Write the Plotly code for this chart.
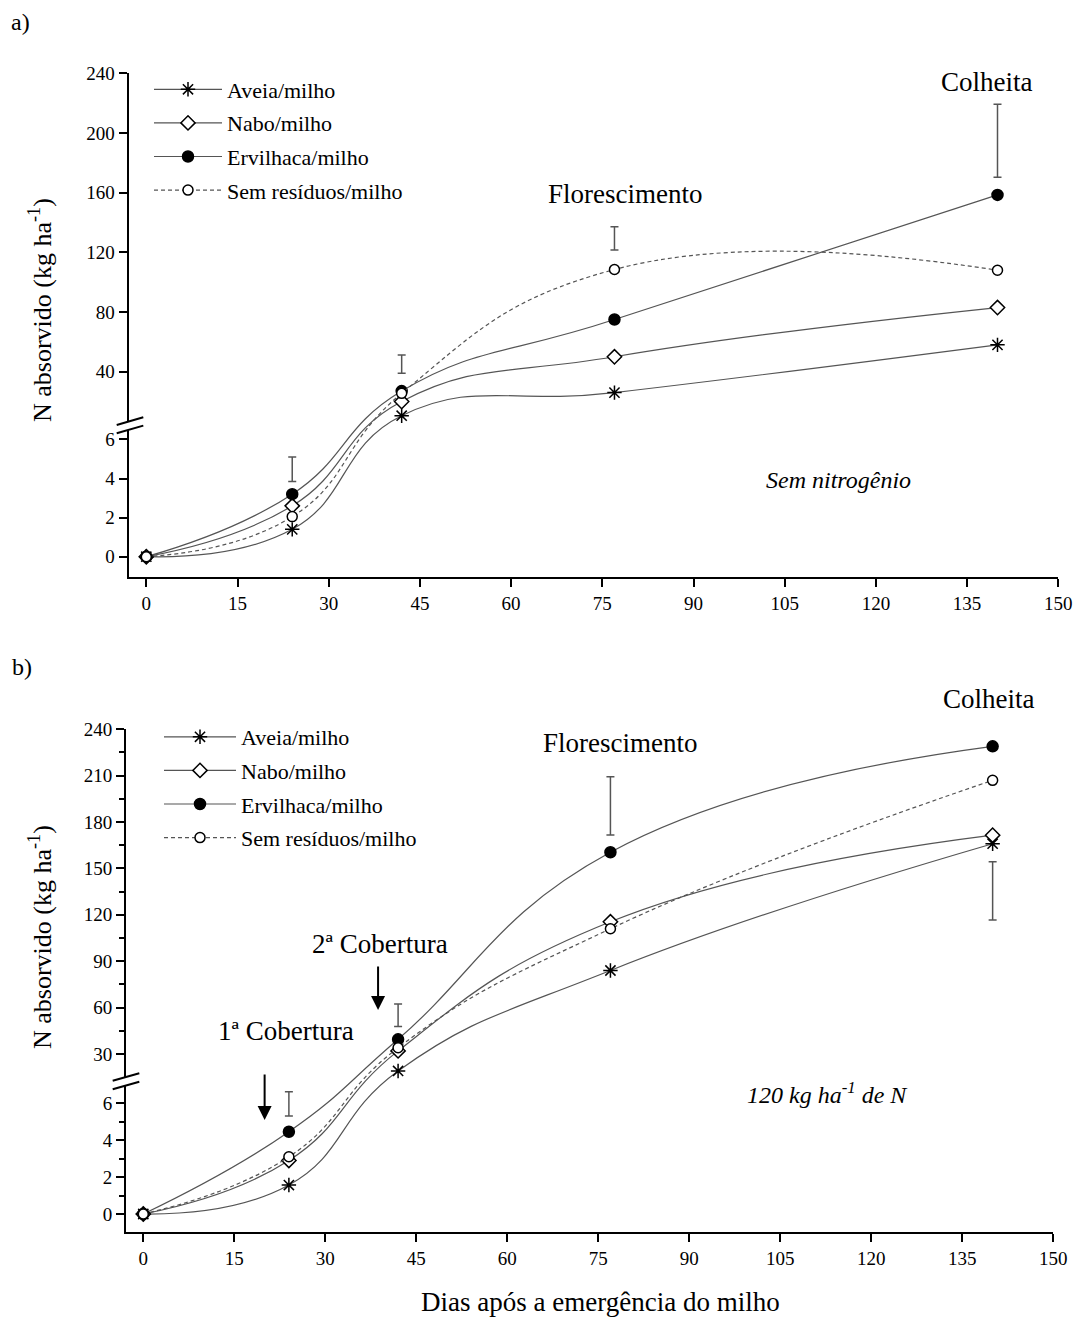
import plotly.graph_objects as go

W, H = 1076, 1317

# ---------------- data ----------------
days = [0, 24, 42, 77, 140]

# panel a) Sem nitrogênio
a_aveia = [0, 1.4, 10.5, 26, 58]
a_nabo = [0, 2.6, 20, 50, 83]
a_ervilhaca = [0, 3.2, 27, 75, 158.5]
a_sem = [0, 2.05, 25.5, 108.5, 108]
a_err_days = [24, 42, 77, 140]
a_err_low = [3.85, 38.9, 121.6, 170.3]
a_err_high = [5.1, 51.2, 137.2, 219.2]

# panel b) 120 kg ha-1 de N
b_aveia = [0, 1.57, 19, 84, 166]
b_nabo = [0, 2.9, 32, 115.5, 171.5]
b_ervilhaca = [0, 4.46, 39.5, 160.5, 229]
b_sem = [0, 3.1, 34, 111, 207]
b_err_days = [24, 42, 77, 140]
b_err_low = [5.31, 47.7, 171.6, 116.6]
b_err_high = [6.63, 62.3, 209.3, 154.4]

x_ticks = [0, 15, 30, 45, 60, 75, 90, 105, 120, 135, 150]
a_ticks_low = [0, 2, 4, 6]
a_ticks_up = [40, 80, 120, 160, 200, 240]
b_ticks_low = [0, 2, 4, 6]
b_ticks_up = [30, 60, 90, 120, 150, 180, 210, 240]
b_minor_low = [1, 3, 5]
b_minor_up = [45, 75, 105, 135, 165, 195, 225]

series_names = ["Aveia/milho", "Nabo/milho", "Ervilhaca/milho", "Sem resíduos/milho"]
series_symbols = ["asterisk-open", "diamond", "circle", "circle"]
series_fill = ["black", "white", "black", "white"]
series_size = [12, 11, 11, 10]
series_dash = ["solid", "solid", "solid", "4px,3px"]

# ---------------- broken-axis scales ----------------
def make_scale(low_per_unit, up_ref, up_ref_pos, up_per_unit, brk):
    def f(v):
        if v <= brk:
            return v * low_per_unit
        return up_ref_pos + (v - up_ref) * up_per_unit
    return f

tf_a = make_scale(19.55, 40, 185.0, 1.492, 6.5)
tf_b = make_scale(18.45, 30, 160.0, 1.546, 7.5)

FONT = "Liberation Serif, Times New Roman, serif"
LINE_COLOR = "#555555"

fig = go.Figure()

def add_panel(xa, ya, legend, series, tf, err_days, err_low, err_high):
    for i, vals in enumerate(series):
        fig.add_trace(go.Scatter(
            x=days, y=[tf(v) for v in vals],
            mode="lines+markers",
            name=series_names[i],
            legend=legend,
            legendgroup=legend + str(i),
            xaxis=xa, yaxis=ya,
            line=dict(color=LINE_COLOR, width=1.2, shape="spline", smoothing=1.3,
                      dash=series_dash[i]),
            marker=dict(symbol=series_symbols[i], size=series_size[i],
                        color=series_fill[i],
                        line=dict(color="black", width=1.5)),
            cliponaxis=False,
        ))
    lo = [tf(v) for v in err_low]
    hi = [tf(v) for v in err_high]
    fig.add_trace(go.Scatter(
        x=err_days, y=lo, mode="markers", showlegend=False,
        xaxis=xa, yaxis=ya,
        marker=dict(size=1, color="rgba(0,0,0,0)"),
        error_y=dict(type="data", symmetric=False,
                     array=[h - l for h, l in zip(hi, lo)],
                     arrayminus=[0] * len(lo),
                     color=LINE_COLOR, thickness=1.5, width=4),
        hoverinfo="skip",
    ))

add_panel("x", "y", "legend", [a_aveia, a_nabo, a_ervilhaca, a_sem], tf_a,
          a_err_days, a_err_low, a_err_high)
add_panel("x2", "y2", "legend2", [b_aveia, b_nabo, b_ervilhaca, b_sem], tf_b,
          b_err_days, b_err_low, b_err_high)

def px(x):
    return x / W

def py(y):
    return 1 - y / H

axis_common = dict(showline=True, linecolor="black", linewidth=2, ticks="outside",
                   ticklen=8, tickwidth=2, tickcolor="black", showgrid=False,
                   zeroline=False, mirror=False, automargin=False,
                   tickfont=dict(family=FONT, size=19, color="black"))

fig.update_layout(
    width=W, height=H,
    margin=dict(l=0, r=0, t=0, b=0, pad=0, autoexpand=False),
    paper_bgcolor="white", plot_bgcolor="white",
    font=dict(family=FONT, color="black"),
    xaxis=dict(domain=[px(128.5), px(1058.3)], range=[-2.93, 150], anchor="y",
               tickvals=x_ticks, **axis_common),
    yaxis=dict(domain=[py(576.7), py(73.3)], range=[-20, tf_a(240)], anchor="x",
               tickvals=[tf_a(v) for v in a_ticks_low + a_ticks_up],
               ticktext=[str(v) for v in a_ticks_low + a_ticks_up], **axis_common),
    xaxis2=dict(domain=[px(126), px(1053.3)], range=[-2.85, 150], anchor="y2",
                tickvals=x_ticks, **axis_common),
    yaxis2=dict(domain=[py(1232.3), py(729.3)], range=[-18.3, tf_b(240)], anchor="x2",
                tickvals=[tf_b(v) for v in b_ticks_low + b_ticks_up],
                ticktext=[str(v) for v in b_ticks_low + b_ticks_up],
                minor=dict(tickmode="array",
                           tickvals=[tf_b(v) for v in b_minor_low + b_minor_up],
                           ticklen=5, tickwidth=2, tickcolor="black", ticks="outside"),
                **axis_common),
    legend=dict(x=px(149), y=py(68.5), xanchor="left", yanchor="top",
                font=dict(family=FONT, size=22, color="black"),
                bgcolor="rgba(0,0,0,0)", itemwidth=68, tracegroupgap=2,
                itemclick=False),
    legend2=dict(x=px(159), y=py(716), xanchor="left", yanchor="top",
                 font=dict(family=FONT, size=22, color="black"),
                 bgcolor="rgba(0,0,0,0)", itemwidth=72, tracegroupgap=2,
                 itemclick=False),
)

# ---------------- axis break marks ----------------
shapes = []
def add_break(x0, x1, y0a, y1a, gap):
    path = (f"M {px(x0)},{py(y0a)} L {px(x1)},{py(y1a)} "
            f"L {px(x1)},{py(y1a + gap)} L {px(x0)},{py(y0a + gap)} Z")
    shapes.append(dict(type="path", path=path, xref="paper", yref="paper",
                       fillcolor="white", line=dict(width=0), layer="above"))
    for g in (0, gap):
        shapes.append(dict(type="line", xref="paper", yref="paper",
                           x0=px(x0), y0=py(y0a + g), x1=px(x1), y1=py(y1a + g),
                           line=dict(color="black", width=2), layer="above"))

add_break(116.7, 143.3, 425.0, 417.3, 8.3)
add_break(112.7, 139.3, 1080.7, 1073.3, 8.5)
fig.update_layout(shapes=shapes)

# ---------------- text ----------------
ann = []
def text(x, y, s, size, italic=False, angle=0, xanchor="center"):
    ann.append(dict(x=px(x), y=py(y), xref="paper", yref="paper", text=s,
                    showarrow=False, textangle=angle, xanchor=xanchor, yanchor="middle",
                    font=dict(family=FONT, size=size, color="black",
                              style="italic" if italic else "normal")))

text(20, 22, "a)", 24)
text(22, 667, "b)", 24)
text(40, 310, "N absorvido (kg ha<sup>-1</sup>)", 26, angle=-90)
text(40, 937, "N absorvido (kg ha<sup>-1</sup>)", 26, angle=-90)
text(600, 1302, "Dias após a emergência do milho", 27)
text(625, 194, "Florescimento", 27)
text(986, 82, "Colheita", 27)
text(620, 743, "Florescimento", 27)
text(988, 699, "Colheita", 27)
text(838, 480, "Sem nitrogênio", 24, italic=True)
text(827, 1093, "120 kg ha<sup>-1</sup> de N", 24, italic=True)
text(286, 1031, "1ª Cobertura", 27)
text(380, 944, "2ª Cobertura", 27)

# arrows (coberturas)
ann.append(dict(x=20, y=tf_b(5.1), xref="x2", yref="y2", ax=0, ay=-47,
                showarrow=True, arrowhead=2, arrowsize=1.4, arrowwidth=2,
                arrowcolor="black", text=""))
ann.append(dict(x=38.7, y=tf_b(58.5), xref="x2", yref="y2", ax=0, ay=-45,
                showarrow=True, arrowhead=2, arrowsize=1.4, arrowwidth=2,
                arrowcolor="black", text=""))

fig.update_layout(annotations=ann)

fig.write_html("out.html",
               config={"displayModeBar": False},
               post_script="document.body.style.margin='0';"
                           "document.body.style.overflow='hidden';")
